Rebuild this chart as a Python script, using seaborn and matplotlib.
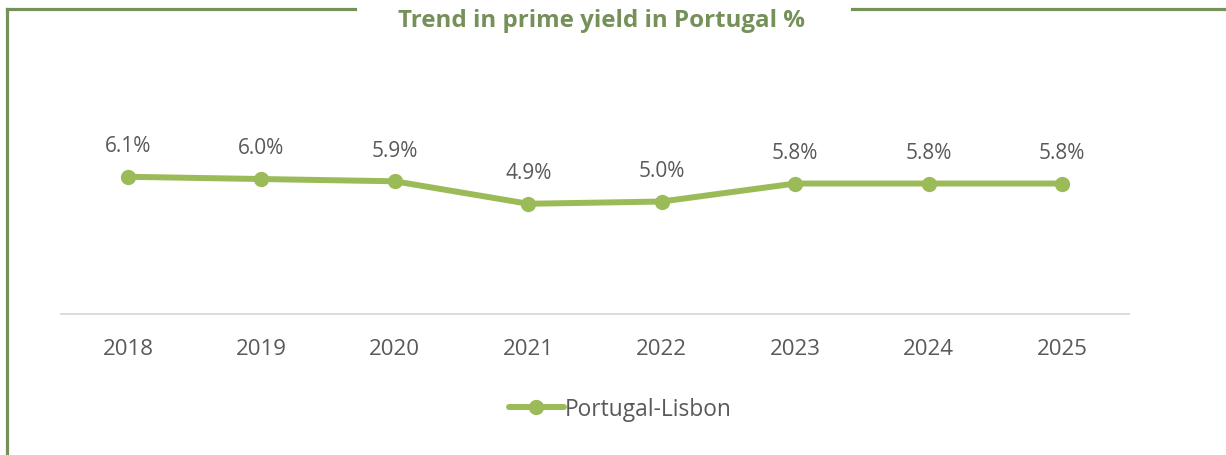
import matplotlib
matplotlib.use("Agg")
import matplotlib.pyplot as plt
from matplotlib.lines import Line2D
import seaborn as sns
import pandas as pd

# Prime yield series, Portugal-Lisbon (%)
years = ["2018", "2019", "2020", "2021", "2022", "2023", "2024", "2025"]
yields = [6.1, 6.0, 5.9, 4.9, 5.0, 5.8, 5.8, 5.8]
series_name = "Portugal-Lisbon"
title = "Trend in prime yield in Portugal %"

sns.set_theme(style="white")
plt.rcParams["font.family"] = ["Open Sans", "DejaVu Sans"]

LINE_GREEN = "#9bbb59"
FRAME_GREEN = "#76905a"
TEXT_GREY = "#595959"

df = pd.DataFrame({"year": years, "yield": yields, "series": series_name})

fig = plt.figure(figsize=(12.26, 4.56), dpi=100)
ax = fig.add_axes([0.05, 0.3092, 0.8706, 0.592])

sns.lineplot(data=df, x="year", y="yield", hue="series", palette=[LINE_GREEN],
             marker="o", markersize=11, linewidth=4.3, markeredgewidth=0,
             sort=False, ax=ax, legend=False)

ax.set_xlim(-0.5, len(years) - 0.5)
ax.set_ylim(0, 12)
ax.set_xlabel("")
ax.set_ylabel("")
ax.set_yticks([])
ax.tick_params(axis="x", length=0, pad=17, labelsize=16, labelcolor=TEXT_GREY)
for side in ["top", "left", "right"]:
    ax.spines[side].set_visible(False)
ax.spines["bottom"].set_color("#d9d9d9")
ax.spines["bottom"].set_linewidth(1.3)

# Value labels above each point
for i, v in enumerate(yields):
    ax.annotate(f"{v:.1f}%", (i, v), xytext=(0, 22.5), textcoords="offset points",
                ha="center", va="center", fontsize=15, color=TEXT_GREY,
                annotation_clip=False)

# Legend below the axis
handle = Line2D([], [], color=LINE_GREEN, linewidth=4.3, marker="o",
                markersize=11, markeredgewidth=0)
fig.legend([handle], [series_name], loc="center", bbox_to_anchor=(0.506, 0.1),
           frameon=False, fontsize=16.4, labelcolor=TEXT_GREY,
           handlelength=2.4, handletextpad=0.05)

# Title and open frame around it
fig.text(0.491, 0.955, title, ha="center", va="center", fontsize=17.4,
         fontweight="bold", color=FRAME_GREEN)
def px(x, y):
    return x / 1226, 1 - y / 456
for (x0, y0), (x1, y1) in [((7, 10), (355, 10)), ((7, 10), (7, 456)),
                           ((852, 10), (1226, 10))]:
    a, b = px(x0, y0)
    c, d = px(x1, y1)
    fig.add_artist(Line2D([a, c], [b, d], transform=fig.transFigure,
                          color=FRAME_GREEN, linewidth=2.3,
                          solid_capstyle="projecting"))

fig.savefig("out.png", dpi=100, facecolor="white")
